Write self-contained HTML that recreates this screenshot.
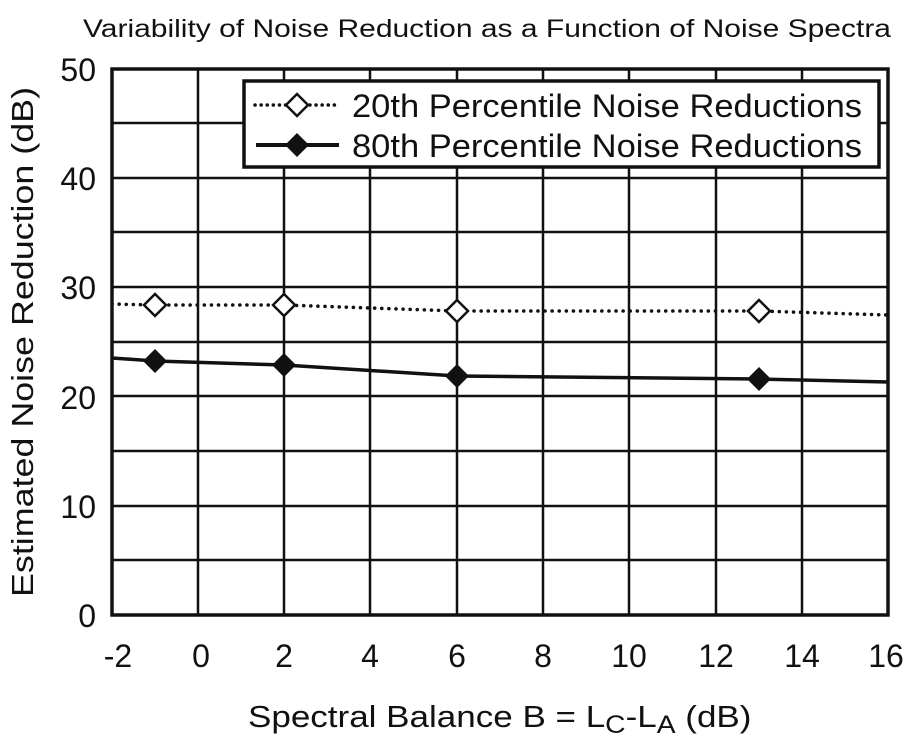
<!DOCTYPE html>
<html><head><meta charset="utf-8"><style>body{margin:0;background:#fff}</style></head><body>
<svg width="913" height="744" viewBox="0 0 913 744" xmlns="http://www.w3.org/2000/svg" font-family="Liberation Sans, sans-serif" fill="#111">
<rect width="913" height="744" fill="#fff"/>
<text x="487" y="37" font-size="25" text-anchor="middle" textLength="808" lengthAdjust="spacingAndGlyphs">Variability of Noise Reduction as a Function of Noise Spectra</text>
<g stroke="#111" stroke-width="2.5">
<line x1="198" y1="69" x2="198" y2="615"/><line x1="284" y1="69" x2="284" y2="615"/><line x1="370" y1="69" x2="370" y2="615"/><line x1="457" y1="69" x2="457" y2="615"/><line x1="543" y1="69" x2="543" y2="615"/><line x1="629" y1="69" x2="629" y2="615"/><line x1="716" y1="69" x2="716" y2="615"/><line x1="802" y1="69" x2="802" y2="615"/>
<line x1="112" y1="560" x2="888" y2="560"/><line x1="112" y1="506" x2="888" y2="506"/><line x1="112" y1="451" x2="888" y2="451"/><line x1="112" y1="396" x2="888" y2="396"/><line x1="112" y1="342" x2="888" y2="342"/><line x1="112" y1="287" x2="888" y2="287"/><line x1="112" y1="232" x2="888" y2="232"/><line x1="112" y1="178" x2="888" y2="178"/><line x1="112" y1="123" x2="888" y2="123"/>
</g>
<rect x="112" y="69" width="776" height="546" fill="none" stroke="#111" stroke-width="3.5"/>
<polyline points="112,304 155,305 284,305 457,311 759,311 888,315" fill="none" stroke="#111" stroke-width="3.5" stroke-dasharray="0.1 7" stroke-linecap="round"/>
<polyline points="112,358 155,361 284,365 457,376 759,379 888,382" fill="none" stroke="#111" stroke-width="3.5"/>
<g fill="#fff" stroke="#111" stroke-width="2.5">
<polygon points="155,294 166,305 155,316 144,305"/><polygon points="284,294 295,305 284,316 273,305"/><polygon points="457,300 468,311 457,322 446,311"/><polygon points="759,300 770,311 759,322 748,311"/>
</g>
<g fill="#111">
<polygon points="155,349 167,361 155,373 143,361"/><polygon points="284,353 296,365 284,377 272,365"/><polygon points="457,364 469,376 457,388 445,376"/><polygon points="759,367 771,379 759,391 747,379"/>
</g>
<rect x="244" y="81" width="635" height="86" fill="#fff" stroke="#111" stroke-width="3.5"/>
<line x1="255" y1="105" x2="340" y2="105" stroke="#111" stroke-width="3.5" stroke-dasharray="0.1 6" stroke-linecap="round"/>
<polygon points="297,94 308,105 297,116 286,105" fill="#fff" stroke="#111" stroke-width="2.5"/>
<line x1="256" y1="145" x2="339" y2="145" stroke="#111" stroke-width="4"/>
<polygon points="297,133 309,145 297,157 285,145"/>
<text x="352" y="117" font-size="32" textLength="510" lengthAdjust="spacingAndGlyphs">20th Percentile Noise Reductions</text>
<text x="352" y="157" font-size="32" textLength="510" lengthAdjust="spacingAndGlyphs">80th Percentile Noise Reductions</text>
<g font-size="32" text-anchor="end">
<text x="96" y="627">0</text><text x="96" y="518">10</text><text x="96" y="409">20</text><text x="96" y="299">30</text><text x="96" y="190">40</text><text x="96" y="81">50</text>
</g>
<g font-size="32" text-anchor="middle">
<text x="118" y="667">-2</text><text x="201" y="667">0</text><text x="284" y="667">2</text><text x="370" y="667">4</text><text x="457" y="667">6</text><text x="543" y="667">8</text><text x="629" y="667">10</text><text x="716" y="667">12</text><text x="802" y="667">14</text><text x="886" y="667">16</text>
</g>
<g transform="translate(248,727) scale(1.13,1)">
<text x="0" y="0" font-size="31">Spectral Balance B = L<tspan font-size="25" dy="6">C</tspan><tspan dy="-6">-L</tspan><tspan font-size="25" dy="6">A</tspan><tspan dy="-6"> (dB)</tspan></text>
</g>
<text transform="translate(33,342) rotate(-90)" font-size="31" text-anchor="middle" textLength="510" lengthAdjust="spacingAndGlyphs">Estimated Noise Reduction (dB)</text>
</svg>
</body></html>
